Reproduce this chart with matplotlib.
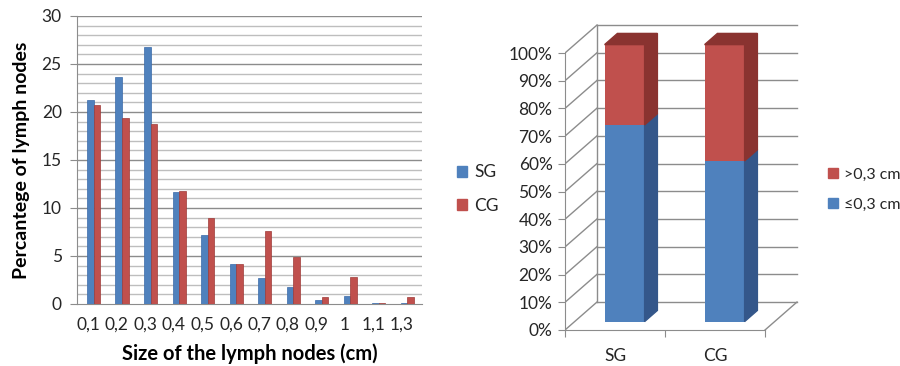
import matplotlib.pyplot as plt
from matplotlib.patches import Patch, Polygon
import numpy as np

plt.rcParams['font.family'] = ['Lato', 'DejaVu Sans']
plt.rcParams['text.color'] = '#262626'
plt.rcParams['xtick.color'] = '#262626'
plt.rcParams['ytick.color'] = '#262626'

# left chart data
sizes = ['0,1', '0,2', '0,3', '0,4', '0,5', '0,6', '0,7', '0,8', '0,9', '1', '1,1', '1,3']
sg = [21.2, 23.6, 26.8, 11.7, 7.2, 4.2, 2.7, 1.8, 0.4, 0.8, 0.15, 0.15]
cg = [20.7, 19.4, 18.7, 11.8, 9.0, 4.2, 7.6, 4.9, 0.7, 2.8, 0.15, 0.7]

# right chart data (percent)
groups = ['SG', 'CG']
small = [71, 58]      # <=0,3 cm
large = [29, 42]      # >0,3 cm

blue = '#4F81BD'
red = '#C0504D'
blue_dark = '#34578A'
red_dark = '#8A3330'
grid = '#8C8C8C'
grid_light = '#BEBEBE'

fig = plt.figure(figsize=(9, 3.66), dpi=100)

# ---- left chart ----
ax = fig.add_axes([77/900, 1-304/366, (422-77)/900, (304-16)/366])
x = np.arange(len(sizes))
ax.bar(x - 0.05, sg, width=0.24, align='edge', color=blue, edgecolor='#3A6AA8', lw=0.5, zorder=3)
ax.bar(x + 0.19, cg, width=0.22, align='edge', color=red, edgecolor='#9E3B38', lw=0.5, zorder=3)
ax.set_xlim(-0.4, 11.7)
ax.set_ylim(0, 30)
for v in range(1, 31):
    ax.axhline(v, color=grid if v % 5 == 0 else grid_light, lw=1, zorder=1)
ax.set_yticks(range(0, 31, 5))
ax.set_xticks(x)
ax.set_xticklabels(sizes)
ax.tick_params(axis='y', length=5, color=grid, labelsize=12.5, pad=6)
ax.tick_params(axis='x', length=0, labelsize=12.5, pad=9)
for s in ['top', 'right']:
    ax.spines[s].set_visible(False)
ax.spines['left'].set_color(grid)
ax.spines['bottom'].set_color(grid)
ax.set_ylabel('Percantege of lymph nodes', fontsize=14, fontweight='bold', labelpad=8, color='black')
ax.set_xlabel('Size of the lymph nodes (cm)', fontsize=14.5, fontweight='bold', labelpad=8, color='black')

fig.legend(handles=[Patch(color=blue, label='SG'), Patch(color=red, label='CG')],
           loc='center left', bbox_to_anchor=(457/900, 1-189/366), frameon=False, borderpad=0,
           borderaxespad=0, handlelength=0.6, handleheight=0.6, handletextpad=0.4,
           labelspacing=1.0, fontsize=12.5)

# ---- right chart (3D look) ----
ax2 = fig.add_axes([565/900, 1-345/366, 235/900, 330/366])
ax2.set_xlim(-0.5, 1.85)
ax2.set_ylim(-15/2.77, 315/2.77)
wdx, wdy = 0.32, 10.1          # back wall offset
bdx, bdy = 0.3*wdx, 0.3*wdy    # bar shift into the box
ddx, ddy = 0.4*wdx, 0.4*wdy    # bar depth

for k in range(0, 101, 10):
    ax2.plot([-0.5, -0.5+wdx], [k, k+wdy], color=grid, lw=1, zorder=1)
    ax2.plot([-0.5+wdx, 1.5+wdx], [k+wdy, k+wdy], color=grid, lw=1, zorder=1)
ax2.plot([-0.5+wdx, -0.5+wdx], [wdy, 100+wdy], color=grid, lw=1, zorder=1)
ax2.plot([1.5, 1.5+wdx], [0, wdy], color=grid, lw=1, zorder=1)

xi = np.arange(len(groups))
bottoms = [0]*len(groups)
for vals, face, side in [(small, blue, blue_dark), (large, red, red_dark)]:
    ax2.bar(xi + bdx, vals, bottom=np.array(bottoms) + bdy, width=0.4, color=face, zorder=3)
    for i, v in enumerate(vals):
        x1 = xi[i] + bdx + 0.2
        y0 = bottoms[i] + bdy
        y1 = y0 + v
        ax2.add_patch(Polygon([(x1, y0), (x1+ddx, y0+ddy), (x1+ddx, y1+ddy), (x1, y1)],
                              closed=True, color=side, zorder=3))
    bottoms = [b + v for b, v in zip(bottoms, vals)]
for i, b in enumerate(bottoms):
    x0 = xi[i] + bdx - 0.2
    x1 = x0 + 0.4
    y = b + bdy
    ax2.add_patch(Polygon([(x0, y), (x0+ddx, y+ddy), (x1+ddx, y+ddy), (x1, y)],
                          closed=True, color=red_dark, zorder=3))

for s in ['top', 'right']:
    ax2.spines[s].set_visible(False)
ax2.spines['left'].set_bounds(0, 100)
ax2.spines['left'].set_color(grid)
ax2.spines['bottom'].set_position(('data', 0))
ax2.spines['bottom'].set_bounds(-0.5, 1.5)
ax2.spines['bottom'].set_color(grid)
ax2.set_yticks(range(0, 101, 10))
ax2.set_yticklabels([f'{v}%' for v in range(0, 101, 10)])
ax2.set_xticks([-0.5, 0.5, 1.5])
ax2.set_xticklabels([])
ax2.set_xticks(xi, minor=True)
ax2.set_xticklabels(groups, minor=True)
ax2.tick_params(axis='y', length=5, color=grid, labelsize=12.5, pad=4)
ax2.tick_params(axis='x', which='major', length=5, color=grid)
ax2.tick_params(axis='x', which='minor', length=0, labelsize=12.5, pad=13)

fig.legend(handles=[Patch(color=red, label='>0,3 cm'), Patch(color=blue, label='≤0,3 cm')],
           loc='center left', bbox_to_anchor=(828/900, 1-190/366), frameon=False, borderpad=0,
           borderaxespad=0, handlelength=0.6, handleheight=0.6, handletextpad=0.4,
           labelspacing=1.0, fontsize=11.5)

fig.savefig('out.png', dpi=100)
